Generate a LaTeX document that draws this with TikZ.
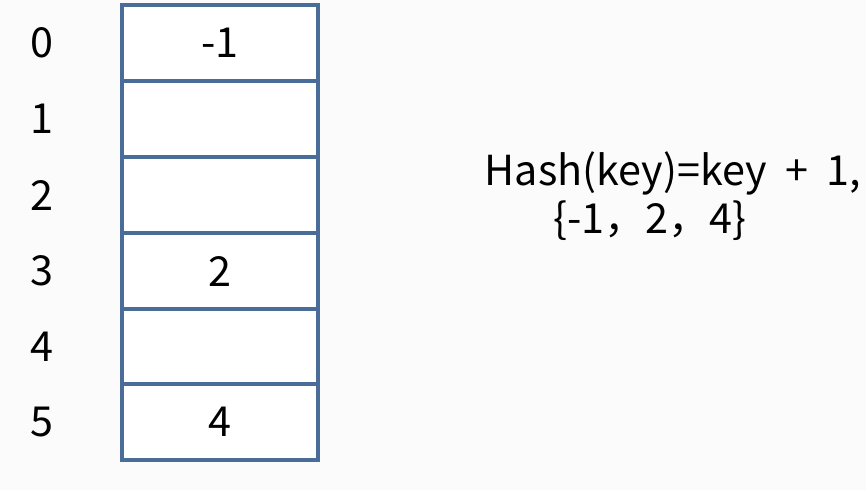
\documentclass[tikz,border=0pt]{standalone}
\usepackage{fontspec}
\setmainfont{Noto Sans CJK SC}
\usepackage{tikz}
\usetikzlibrary{positioning}
\definecolor{CellBlue}{HTML}{4A6C98}
\definecolor{PageGray}{HTML}{FBFBFB}

\begin{document}
\begin{tikzpicture}[
  x=0.75pt, y=-0.75pt,
  cell/.style={draw=CellBlue, line width=2.4pt, fill=white,
               minimum width=147pt, minimum height=57pt, inner sep=0pt,
               font=\fontsize{31}{34}\selectfont},
  idx/.style={font=\fontsize{31}{34}\selectfont},
  formula/.style={font=\fontsize{31}{36}\selectfont, inner sep=0pt}
]
  \useasboundingbox[fill=PageGray] (0,0) rectangle (866,490);

  % hash table cells
  \node[cell] (c0) at (220, 43)  {-1};
  \node[cell] (c1) at (220, 119) {};
  \node[cell] (c2) at (220, 195) {};
  \node[cell] (c3) at (220, 271) {2};
  \node[cell] (c4) at (220, 347) {};
  \node[cell] (c5) at (220, 422) {4};

  % slot indices
  \node[idx] (i0) at (42, 43)  {0};
  \node[idx] (i1) at (42, 119) {1};
  \node[idx] (i2) at (42, 195) {2};
  \node[idx] (i3) at (42, 271) {3};
  \node[idx] (i4) at (42, 347) {4};
  \node[idx] (i5) at (42, 422) {5};

  % hash function and keys
  \node[formula] (hash) at (673, 173) {Hash(key)=key\ \ +\ \ 1,};
  \node[formula] (keys) at (650, 221) {\{-1，2，4\}};
\end{tikzpicture}
\end{document}
